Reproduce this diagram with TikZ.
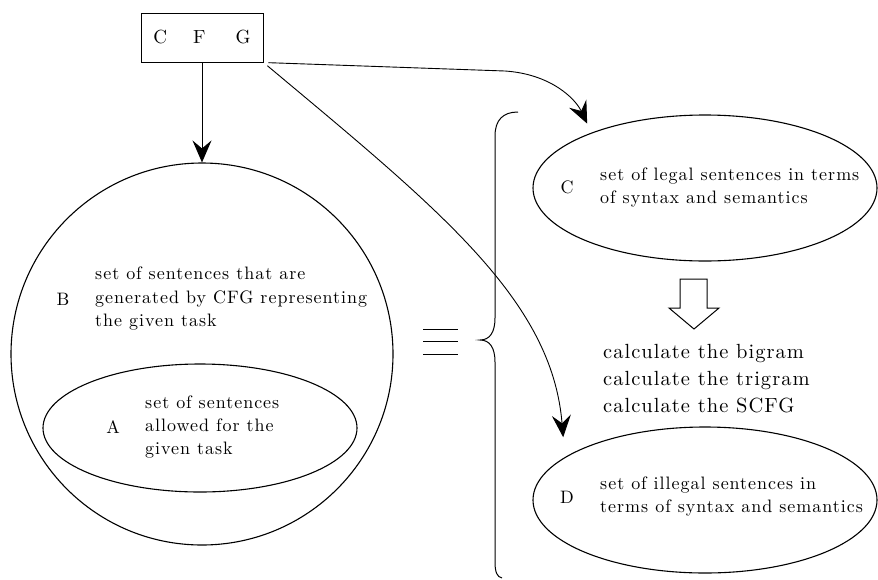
\documentclass[tikz,border=0pt]{standalone}
\usepackage{fontspec}
\usepackage{tikz}
\usetikzlibrary{shapes.geometric,arrows.meta}
\newfontfamily\setfont{lmroman10-regular.otf}[LetterSpace=5.5]
\newfontfamily\calcfont{lmroman10-regular.otf}[LetterSpace=5]

\begin{document}
\begin{tikzpicture}[x=1pt,y=-1pt,
  set/.style={draw,line width=1.1pt,inner sep=0pt},
  lbl/.style={inner sep=0pt,font=\setfont\fontsize{18}{18}\selectfont},
  txt/.style={anchor=west,align=left,inner sep=0pt,font=\setfont\fontsize{18}{23.5}\selectfont},
  arr/.style={-{Stealth[length=22pt,width=19pt,inset=8pt]},line width=0.9pt}]
\useasboundingbox (0,0) rectangle (878,579);

\node[draw,line width=1pt,minimum width=122pt,minimum height=49pt,font=\setfont\fontsize{19}{19}\selectfont] (cfg) at (202,37.5) {C\hspace{26pt}F\hspace{30pt}G};

\node[set,circle,minimum size=382pt] (B) at (202,354) {};
\node[lbl] (Bl) at (63,299) {B};
\node[txt] (Bt) at (95,299) {set of sentences that are\\generated by CFG representing\\the given task};

\node[set,ellipse,minimum width=314pt,minimum height=128pt] (A) at (200,428) {};
\node[lbl] (Al) at (113,427) {A};
\node[txt] (At) at (145,427) {set of sentences\\allowed for the\\given task};

\foreach \y in {329,341.5,354}
  \draw[line width=1pt] (423,\y) -- (458,\y);

\draw[line width=1pt] (518,112) .. controls (503,112) and (495,120) .. (495,136) -- (495,318)
  .. controls (495,332) and (490,340) .. (480,340) .. controls (490,340) and (495,348) .. (495,362)
  -- (495,562) .. controls (495,572) and (497,577) .. (502,578);

\node[set,ellipse,minimum width=344pt,minimum height=146pt] (C) at (705,188) {};
\node[lbl] (Cl) at (567,187) {C};
\node[txt] (Ct) at (600,187.5) {set of legal sentences in terms\\of syntax and semantics};

\draw[line width=1pt] (680,279) -- (707,279) -- (707,308) -- (719,308) -- (694,329) -- (669,308) -- (680,308) -- cycle;

\node[txt,font=\calcfont\fontsize{20.5}{27}\selectfont] (calc) at (603,379) {calculate the bigram\\calculate the trigram\\calculate the SCFG};

\node[set,ellipse,minimum width=344pt,minimum height=146pt] (D) at (705,500) {};
\node[lbl] (Dl) at (567,497) {D};
\node[txt] (Dt) at (600,496.5) {set of illegal sentences in\\terms of syntax and semantics};

\draw[arr] (cfg) -- (B);
\draw[arr,shorten <=5pt,shorten >=10pt] (cfg.south east) -- (505,71) .. controls (550,74) and (575,98) .. (C.154);
\draw[arr,shorten <=5pt,shorten >=20pt] (cfg.south east) .. controls (440,210) and (552,300) .. (D.163);
\end{tikzpicture}
\end{document}
